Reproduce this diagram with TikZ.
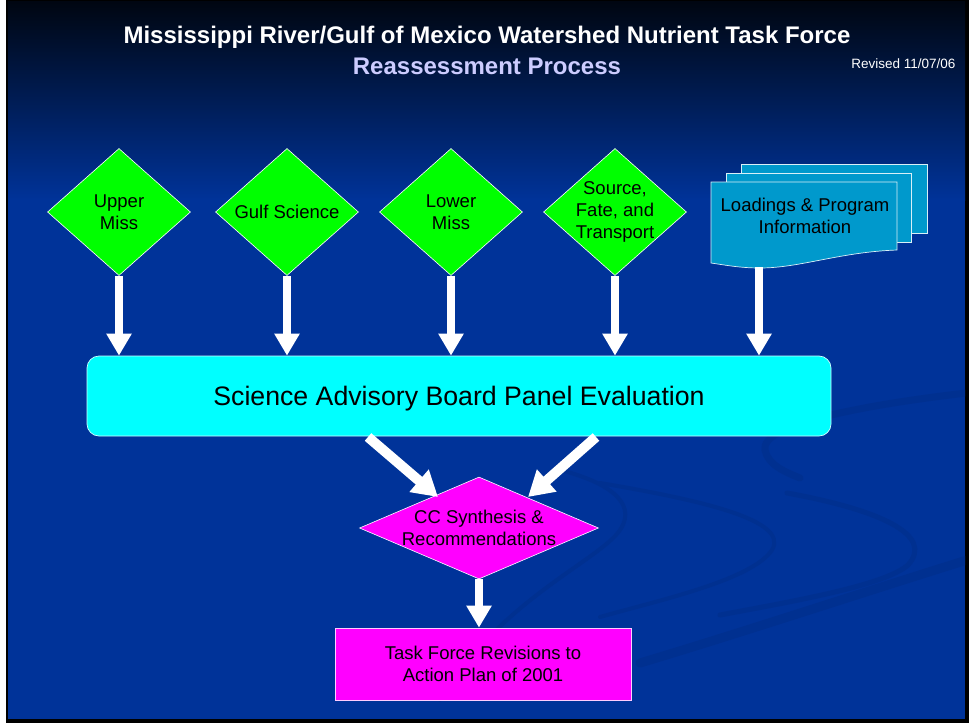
\documentclass[tikz,border=0pt]{standalone}
\usepackage{fontspec}
\setmainfont{Liberation Sans}
\usetikzlibrary{shapes.geometric,arrows.meta,calc}
\definecolor{bgblue}{HTML}{003399}
\definecolor{topdark}{HTML}{000611}
\definecolor{midblue}{HTML}{001B50}
\definecolor{swirl}{HTML}{003090}
\definecolor{gfill}{HTML}{00FF00}
\definecolor{cfill}{HTML}{00FFFF}
\definecolor{mfill}{HTML}{FF00FF}
\definecolor{dfill}{HTML}{0099CC}
\definecolor{lav}{HTML}{CCCCFF}
\tikzset{
  gdia/.style={diamond, draw=white, line width=0.6pt, fill=gfill, minimum width=143pt, minimum height=127pt, inner sep=0pt},
  dtext/.style={align=center, font=\fontsize{18.5}{22}\selectfont, text=black},
  docst/.style={draw=white!85!dfill, line width=0.7pt, fill=dfill},
  warrow/.style={white, line width=8pt, -{Triangle[width=24pt,length=22pt]}},
  wdiag/.style={white, line width=10pt, -{Triangle[width=28pt,length=25pt]}},
  swirlst/.style={swirl, line width=7pt, line cap=round}
}
\begin{document}
\begin{tikzpicture}[x=1pt,y=-1pt]
\useasboundingbox (0,0) rectangle (969,723);
\fill[white] (0,0) rectangle (969,723);
\fill[black] (6,0) rectangle (969,723);
\shade[top color=topdark, middle color=midblue, bottom color=bgblue] (8,1) rectangle (965,200);
\fill[bgblue] (8,199) rectangle (965,719);
% background swirls
\begin{scope}
\clip (8,199) rectangle (965,719);
\draw[swirlst] (975,392) .. controls (860,405) and (760,425) .. (765,450) .. controls (768,465) and (785,472) .. (800,478);
\draw[swirlst, line width=4pt] (600,483) .. controls (700,500) and (790,520) .. (772,550) .. controls (752,580) and (660,600) .. (600,617);
\draw[swirlst, line width=5pt] (787,493) .. controls (880,510) and (935,535) .. (908,565) .. controls (885,585) and (800,600) .. (720,615);
\draw[swirlst, line width=9pt] (640,663) .. controls (750,630) and (870,590) .. (980,556);
\draw[swirlst, line width=4pt] (560,470) .. controls (600,480) and (640,500) .. (620,530) .. controls (600,560) and (500,600) .. (440,700);
\end{scope}
% title
\node[font=\bfseries\fontsize{24}{28}\selectfont, text=white] (title) at (487,37) {Mississippi River/Gulf of Mexico Watershed Nutrient Task Force};
\node[font=\bfseries\fontsize{24}{28}\selectfont, text=lav] (sub) at (487,66) {Reassessment Process};
\node[font=\fontsize{13.5}{16}\selectfont, text=white, anchor=east] (rev) at (959,64) {Revised 11/07/06};
% diamonds
\node[gdia, label={[dtext]center:{Upper\\Miss}}] (um) at (119,212) {};
\node[gdia, label={[dtext]center:{Gulf Science}}] (gs) at (287,212) {};
\node[gdia, label={[dtext]center:{Lower\\Miss}}] (lm) at (451,212) {};
\node[gdia, label={[dtext]center:{Source,\\Fate, and\\Transport}}] (sft) at (615,212) {};
% document stack
\filldraw[docst] (741,164) rectangle (927,233);
\filldraw[docst] (726,173) rectangle (911,242);
\filldraw[docst] (711,182) -- (897,182) -- (897,250) .. controls (840,252) and (800,268) .. (760,268) .. controls (740,268) and (725,265) .. (711,263) -- cycle;
\node[dtext] (load) at (805,216) {Loadings \& Program\\Information};
\coordinate (ldb) at (759,267);
% science box
\node[draw=white!80!cfill, line width=0.7pt, fill=cfill, rounded corners=12pt, minimum width=744pt, minimum height=80pt, text height=19pt, text depth=0pt, font=\fontsize{26.7}{32}\selectfont, text=black] (sab) at (459,396) {Science Advisory Board Panel Evaluation};
% CC diamond
\node[diamond, draw=white, line width=0.6pt, fill=mfill, minimum width=239pt, minimum height=102pt, inner sep=0pt, label={[dtext]center:{CC Synthesis \&\\Recommendations}}] (cc) at (479,528) {};
% task force box
\node[draw=white!80!mfill, line width=0.7pt, fill=mfill, minimum width=296pt, minimum height=72pt, dtext] (tf) at (483,664) {Task Force Revisions to\\Action Plan of 2001};
% arrows
\draw[warrow] (um.south) -- (um.south |- sab.north);
\draw[warrow] (gs.south) -- (gs.south |- sab.north);
\draw[warrow] (lm.south) -- (lm.south |- sab.north);
\draw[warrow] (sft.south) -- (sft.south |- sab.north);
\draw[warrow] (ldb) -- (ldb |- sab.north);
\coordinate (d1s) at (368,437);
\coordinate (d1e) at (438,497);
\coordinate (d2s) at (596,437);
\coordinate (d2e) at (528,497);
\draw[wdiag] (d1s) -- (d1e);
\draw[wdiag] (d2s) -- (d2e);
\draw[warrow] (cc.south) -- (cc.south |- tf.north);
\end{tikzpicture}
\end{document}
